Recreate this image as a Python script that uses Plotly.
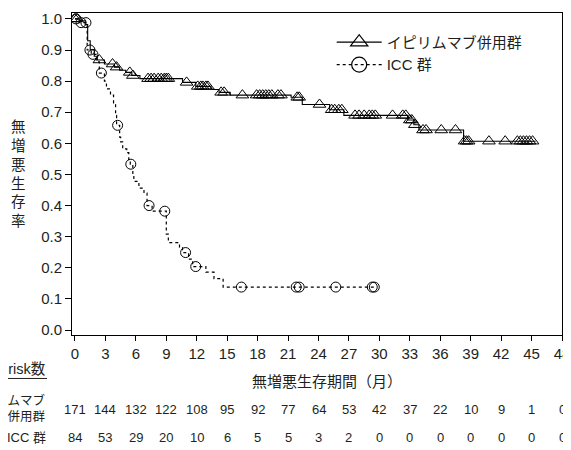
import plotly.graph_objects as go

# ---------------- data ----------------
# イピリムマブ併用群 : Kaplan-Meier steps (time in months, survival after step)
ipi_t = [0, 0.4, 1.0, 1.25, 1.5, 1.9, 2.2, 2.9, 3.9, 4.4, 5.0, 5.6, 6.4, 10.6, 11.9,
         13.4, 14.2, 15.3, 21.3, 22.4, 25.1, 26.5, 32.8, 33.4, 33.9, 38.3]
ipi_s = [1.0, 0.994, 0.982, 0.93, 0.90, 0.88, 0.868, 0.855, 0.845, 0.835, 0.828, 0.818,
         0.808, 0.796, 0.783, 0.773, 0.764, 0.755, 0.748, 0.725, 0.708, 0.690, 0.675,
         0.66, 0.643, 0.607]
ipi_end = 45.4
ipi_censor = [0, 0.2, 2.4, 3.7, 4.1, 5.4, 5.7, 7.2, 7.5, 7.8, 8.2, 8.5, 8.8, 9.0, 9.2,
              11.0, 12.1, 12.4, 12.6, 12.9, 13.1, 14.4, 14.7, 16.5, 17.9, 18.2, 18.5,
              18.8, 19.1, 19.4, 20.0, 20.3, 21.9, 22.1, 24.1, 25.3, 25.6, 26.0, 26.3,
              27.6, 28.0, 28.5, 29.0, 29.3, 29.6, 31.3, 32.3, 32.6, 33.0, 33.2, 33.5,
              34.3, 34.6, 36.1, 37.5, 38.4, 38.6, 38.8, 40.8, 42.4, 43.6, 43.9, 44.2,
              44.5, 44.8, 45.1]

# ICC群
icc_t = [0, 0.4, 1.2, 1.6, 2.1, 2.4, 2.9, 3.1, 3.5, 3.8, 4.0, 4.1, 4.4, 4.5, 4.7, 5.1,
         5.3, 5.45, 5.7, 5.8, 6.3, 6.8, 7.1, 7.6, 9.0, 9.2, 10.3, 10.6, 11.2, 11.6,
         12.9, 13.7, 14.6]
icc_s = [1.0, 0.988, 0.90, 0.886, 0.862, 0.826, 0.80, 0.775, 0.755, 0.73, 0.69, 0.658,
         0.62, 0.605, 0.582, 0.57, 0.548, 0.533, 0.50, 0.478, 0.456, 0.44, 0.40, 0.382,
         0.308, 0.281, 0.266, 0.249, 0.228, 0.204, 0.186, 0.165, 0.138]
icc_end = 29.6
icc_censor = [0.1, 0.6, 1.08, 1.47, 1.77, 2.6, 4.2, 5.5, 7.3, 8.85, 10.9, 11.9, 16.4,
              21.8, 22.1, 25.7, 29.3, 29.5]

# number at risk table
risk_times = [0, 3, 6, 9, 12, 15, 18, 21, 24, 27, 30, 33, 36, 39, 42, 45, 48]
ipi_risk = [171, 144, 132, 122, 108, 95, 92, 77, 64, 53, 42, 37, 22, 10, 9, 1, 0]
icc_risk = [84, 53, 29, 20, 10, 6, 5, 5, 3, 2, 0, 0, 0, 0, 0, 0, 0]

y_ticks = [0.0, 0.1, 0.2, 0.3, 0.4, 0.5, 0.6, 0.7, 0.8, 0.9, 1.0]

name_ipi = "イピリムマブ併用群"
name_icc = "ICC 群"


def km_value(times, surv, t):
    v = surv[0]
    for ti, si in zip(times, surv):
        if ti <= t:
            v = si
    return v


FONT = "Liberation Sans, Arial, Noto Sans CJK JP, sans-serif"
TXT = "#231f20"

fig = go.Figure()

# step curves
fig.add_trace(go.Scatter(x=ipi_t + [ipi_end], y=ipi_s + [ipi_s[-1]], mode="lines",
                         line=dict(color="black", width=1.1, shape="hv"),
                         showlegend=False, hoverinfo="skip"))
fig.add_trace(go.Scatter(x=icc_t + [icc_end], y=icc_s + [icc_s[-1]], mode="lines",
                         line=dict(color="black", width=1.2, shape="hv", dash="dot"),
                         showlegend=False, hoverinfo="skip"))
# censor marks
fig.add_trace(go.Scatter(x=ipi_censor, y=[km_value(ipi_t, ipi_s, t) for t in ipi_censor],
                         mode="markers",
                         marker=dict(symbol="triangle-up-open", size=11, color="black",
                                     line=dict(width=1)),
                         showlegend=False))
fig.add_trace(go.Scatter(x=icc_censor, y=[km_value(icc_t, icc_s, t) for t in icc_censor],
                         mode="markers",
                         marker=dict(symbol="circle-open", size=10, color="black",
                                     line=dict(width=1)),
                         showlegend=False))
# legend entries
fig.add_trace(go.Scatter(x=[None], y=[None], mode="lines+markers", name=name_ipi,
                         line=dict(color="black", width=1.1),
                         marker=dict(symbol="triangle-up-open", size=15, color="black",
                                     line=dict(width=1.2))))
fig.add_trace(go.Scatter(x=[None], y=[None], mode="lines+markers", name=name_icc,
                         line=dict(color="black", width=1.1, dash="dot"),
                         marker=dict(symbol="circle-open", size=15, color="black",
                                     line=dict(width=1.2))))

annotations = []
# y-axis title (vertical stacked)
annotations.append(dict(text="<br>".join(list("無増悪生存率")), xref="paper", yref="paper",
                        x=-0.11, y=0.50, xanchor="center", yanchor="middle",
                        showarrow=False, font=dict(size=14.5, color=TXT, family=FONT)))
# x-axis title
annotations.append(dict(text="無増悪生存期間（月）", xref="paper", yref="paper",
                        x=0.521, y=-0.145, xanchor="center", yanchor="middle",
                        showarrow=False, font=dict(size=15, color=TXT, family=FONT)))
# risk table header and labels
annotations.append(dict(text="at\u00a0\u00a0risk数", xref="paper", yref="paper",
                        x=-0.049, y=-0.105, xanchor="right", yanchor="middle",
                        showarrow=False, font=dict(size=14.5, color=TXT, family=FONT)))
annotations.append(dict(text="イピリムマブ<br>併用群", xref="paper", yref="paper",
                        x=-0.049, y=-0.228, xanchor="right", yanchor="middle", align="right",
                        showarrow=False, font=dict(size=12.5, color=TXT, family=FONT)))
annotations.append(dict(text=name_icc, xref="paper", yref="paper",
                        x=-0.049, y=-0.317, xanchor="right", yanchor="middle",
                        showarrow=False, font=dict(size=13, color=TXT, family=FONT)))
for t, a, b in zip(risk_times, ipi_risk, icc_risk):
    annotations.append(dict(text=str(a), xref="x", yref="paper", x=t, y=-0.231,
                            xanchor="center", yanchor="middle", showarrow=False,
                            font=dict(size=13, color=TXT, family=FONT)))
    annotations.append(dict(text=str(b), xref="x", yref="paper", x=t, y=-0.317,
                            xanchor="center", yanchor="middle", showarrow=False,
                            font=dict(size=13, color=TXT, family=FONT)))

# the page body offsets the figure by 8px; margins compensate for that offset
fig.update_layout(
    width=571, height=450,
    margin=dict(l=64, r=17, t=2, b=123),
    paper_bgcolor="white", plot_bgcolor="white",
    font=dict(family=FONT, size=15, color=TXT),
    showlegend=True,
    legend=dict(x=0.53, y=0.96, xanchor="left", yanchor="top",
                bgcolor="rgba(0,0,0,0)", font=dict(size=15, family=FONT, color=TXT),
                itemwidth=45, tracegroupgap=2),
    annotations=annotations,
    shapes=[dict(type="line", xref="paper", yref="paper",
                 x0=-0.147, x1=-0.051, y0=-0.135, y1=-0.135,
                 line=dict(color=TXT, width=1))],
)
fig.update_xaxes(range=[-0.295, 48], tickvals=risk_times, ticktext=[str(v) for v in risk_times],
                 showgrid=False, zeroline=False, showline=True, mirror=True,
                 linecolor="black", linewidth=1, ticks="outside", ticklen=5,
                 ticklabeloverflow="allow",
                 tickcolor="black", tickfont=dict(size=15, family=FONT, color=TXT))
fig.update_yaxes(range=[-0.016, 1.019], tickvals=y_ticks,
                 ticktext=[f"{v:.1f}" for v in y_ticks],
                 showgrid=False, zeroline=False, showline=True, mirror=True,
                 linecolor="black", linewidth=1, ticks="outside", ticklen=6,
                 ticklabeloverflow="allow",
                 tickcolor="black", tickfont=dict(size=15, family=FONT, color=TXT))

fig.write_html("out.html", config={"displayModeBar": False})
